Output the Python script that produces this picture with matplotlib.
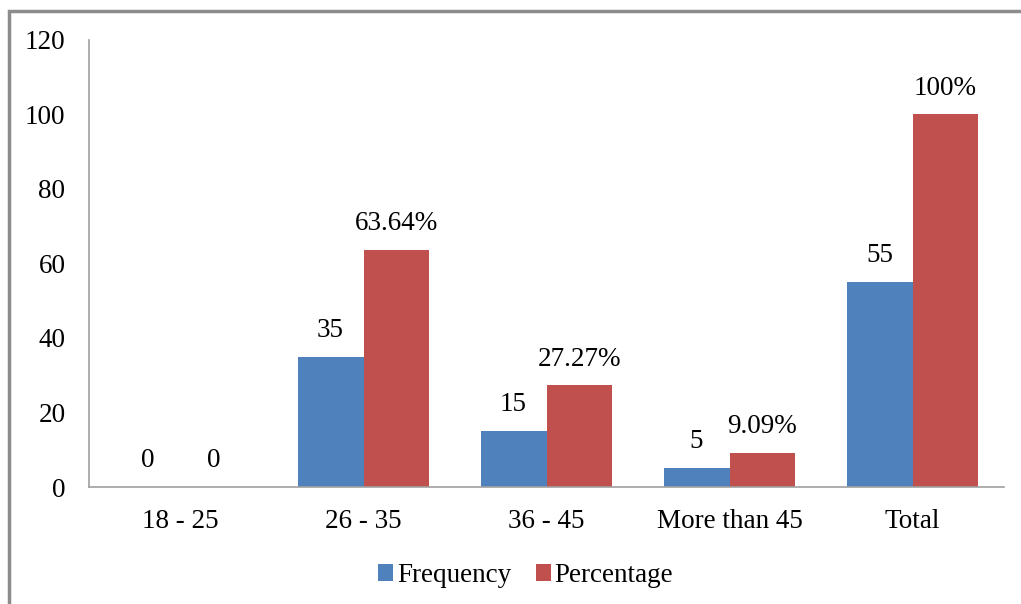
import matplotlib
matplotlib.use("Agg")
import matplotlib.pyplot as plt
import numpy as np
from matplotlib.patches import Rectangle

plt.rcParams["font.family"] = ["Liberation Serif", "DejaVu Serif"]

categories = ["18 - 25", "26 - 35", "36 - 45", "More than 45", "Total"]
frequency = [0, 35, 15, 5, 55]
percentage = [0, 63.64, 27.27, 9.09, 100]
freq_labels = ["0", "35", "15", "5", "55"]
pct_labels = ["0", "63.64%", "27.27%", "9.09%", "100%"]
yticks = [0, 20, 40, 60, 80, 100, 120]

BLUE = "#4F81BD"
RED = "#C0504D"
AXIS = "#A0A0A0"
FS = 19.5

fig = plt.figure(figsize=(10.21, 6.04), dpi=100)
ax = fig.add_axes([0.0872, 0.1937, 0.8962, 0.7401])

x = np.arange(len(categories))
w = 0.36
b1 = ax.bar(x - w / 2, frequency, w, color=BLUE, label="Frequency")
b2 = ax.bar(x + w / 2, percentage, w, color=RED, label="Percentage")

for bars, labels in ((b1, freq_labels), (b2, pct_labels)):
    for rect, txt in zip(bars, labels):
        ax.annotate(txt, (rect.get_x() + rect.get_width() / 2, rect.get_height()),
                    xytext=(0, 10), textcoords="offset points",
                    ha="center", va="bottom", fontsize=FS)

ax.set_xlim(-0.5, len(categories) - 0.5)
ax.set_ylim(0, 120)
ax.set_yticks(yticks)
ax.set_xticks(x)
ax.set_xticklabels(categories)
ax.tick_params(axis="both", length=0, labelsize=FS)
ax.tick_params(axis="y", pad=17)
ax.tick_params(axis="x", pad=16)
for side in ("top", "right"):
    ax.spines[side].set_visible(False)
for side in ("left", "bottom"):
    ax.spines[side].set_color(AXIS)
    ax.spines[side].set_linewidth(1.2)

leg = fig.legend(handles=[b1, b2], loc="center", bbox_to_anchor=(0.515, 0.047),
                 ncol=2, frameon=False, fontsize=FS, handlelength=0.55,
                 handleheight=0.55, handletextpad=0.15, columnspacing=0.9)

# chart area frame (extends past the bottom/right edges)
fig.patches.append(Rectangle((9 / 1021, -0.1), 1.2, 1 - 11 / 604 + 0.1,
                             transform=fig.transFigure, fill=False,
                             edgecolor="#8C8C8C", linewidth=2.5, zorder=0))

fig.savefig("out.png", dpi=100)
